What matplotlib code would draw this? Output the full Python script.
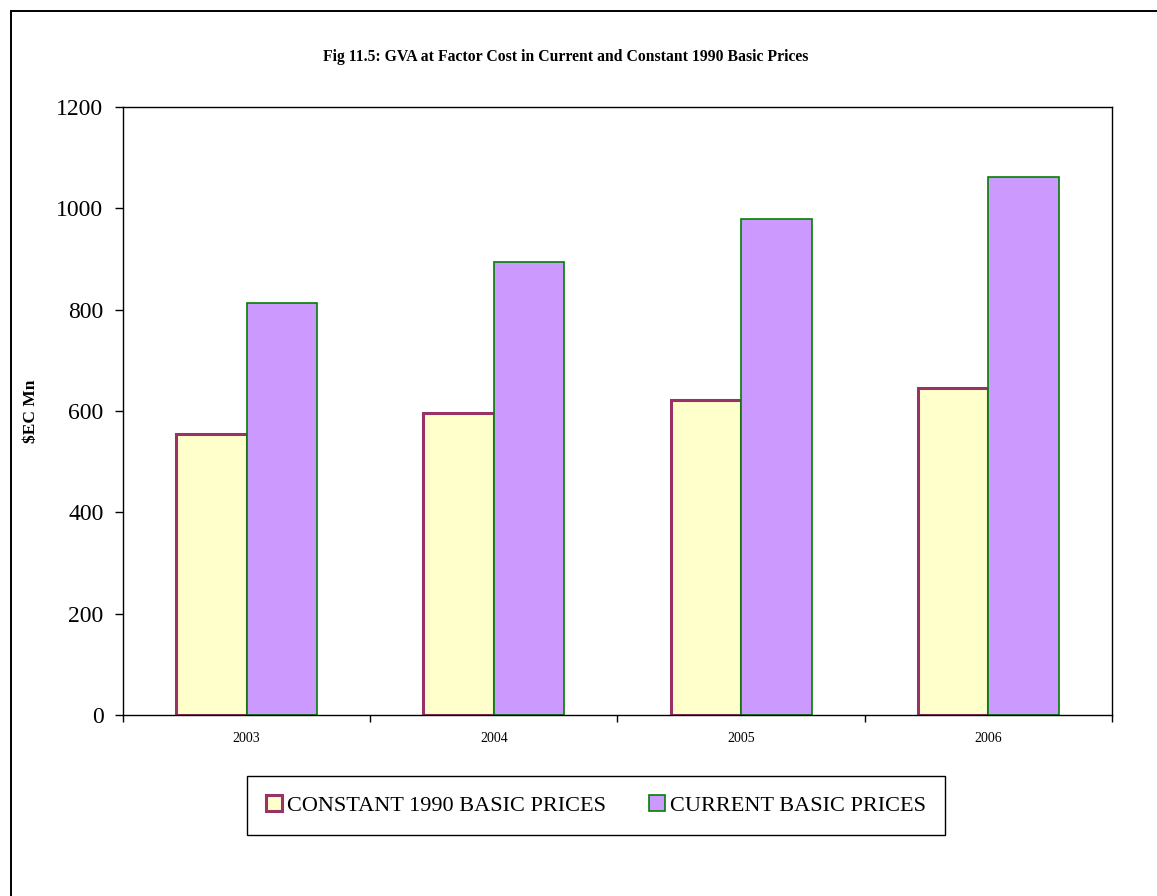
##
## === DEPENDENCIES
##

import matplotlib.pyplot as plt
import numpy
from matplotlib.patches import Rectangle

##
## === DATA
##

years = ["2003", "2004", "2005", "2006"]
constant_1990_prices = [555, 596, 622, 646]
current_prices = [813, 895, 979, 1061]
y_ticks = [0, 200, 400, 600, 800, 1000, 1200]

##
## === MAIN
##


def main() -> None:
    plt.rcParams["font.family"] = ["Liberation Serif", "DejaVu Serif"]

    fig = plt.figure(figsize=(11.57, 8.96), dpi=100)
    ax = fig.add_axes([0.1063, 0.2020, 0.8548, 0.6786])

    x_pos = numpy.arange(len(years))
    bar_width = 0.285
    ax.bar(
        x_pos - bar_width / 2,
        constant_1990_prices,
        width=bar_width,
        color="#FFFFCC",
        edgecolor="#993366",
        linewidth=2.2,
        label="CONSTANT 1990 BASIC PRICES",
    )
    ax.bar(
        x_pos + bar_width / 2,
        current_prices,
        width=bar_width,
        color="#CC99FF",
        edgecolor="#008000",
        linewidth=1.2,
        label="CURRENT BASIC PRICES",
    )

    ax.set_xlim(-0.5, len(years) - 0.5)
    ax.set_ylim(0, 1200)
    ax.set_yticks(y_ticks)
    ax.tick_params(axis="y", labelsize=17, length=6, width=1, pad=8, direction="out")

    # category labels in the middle, tick marks on the boundaries
    ax.set_xticks(x_pos)
    ax.set_xticklabels(years, fontsize=10)
    ax.tick_params(axis="x", which="major", length=0, pad=12)
    ax.set_xticks(numpy.arange(-0.5, len(years)), minor=True)
    ax.tick_params(axis="x", which="minor", length=5, width=1, direction="out")

    for spine in ax.spines.values():
        spine.set_linewidth(1.0)
        spine.set_color("black")

    ax.set_ylabel("$EC Mn", fontsize=12.5, fontweight="bold")
    ax.yaxis.set_label_coords(-0.085, 0.5)

    fig.text(
        0.489,
        1 - 57 / 896,
        "Fig 11.5: GVA at Factor Cost in Current and Constant 1990 Basic Prices",
        ha="center",
        va="center",
        fontsize=11.3,
        fontweight="bold",
    )

    fig.legend(
        loc="center",
        bbox_to_anchor=(596 / 1157, 1 - 805.5 / 896),
        ncol=2,
        fontsize=16,
        frameon=True,
        fancybox=False,
        edgecolor="black",
        framealpha=1,
        handlelength=0.72,
        handleheight=0.72,
        handletextpad=0.25,
        columnspacing=1.9,
        borderpad=0.85,
        borderaxespad=0,
    ).get_frame().set_linewidth(1.0)

    fig.patches.append(
        Rectangle(
            (11 / 1157, -0.1),
            1.2,
            1.1 - 11 / 896,
            transform=fig.transFigure,
            fill=False,
            edgecolor="black",
            linewidth=1.4,
        )
    )

    fig_name = "out.png"
    fig.savefig(fig_name, dpi=100)
    print(f"\t> saved: {fig_name}")


if __name__ == "__main__":
    main()
